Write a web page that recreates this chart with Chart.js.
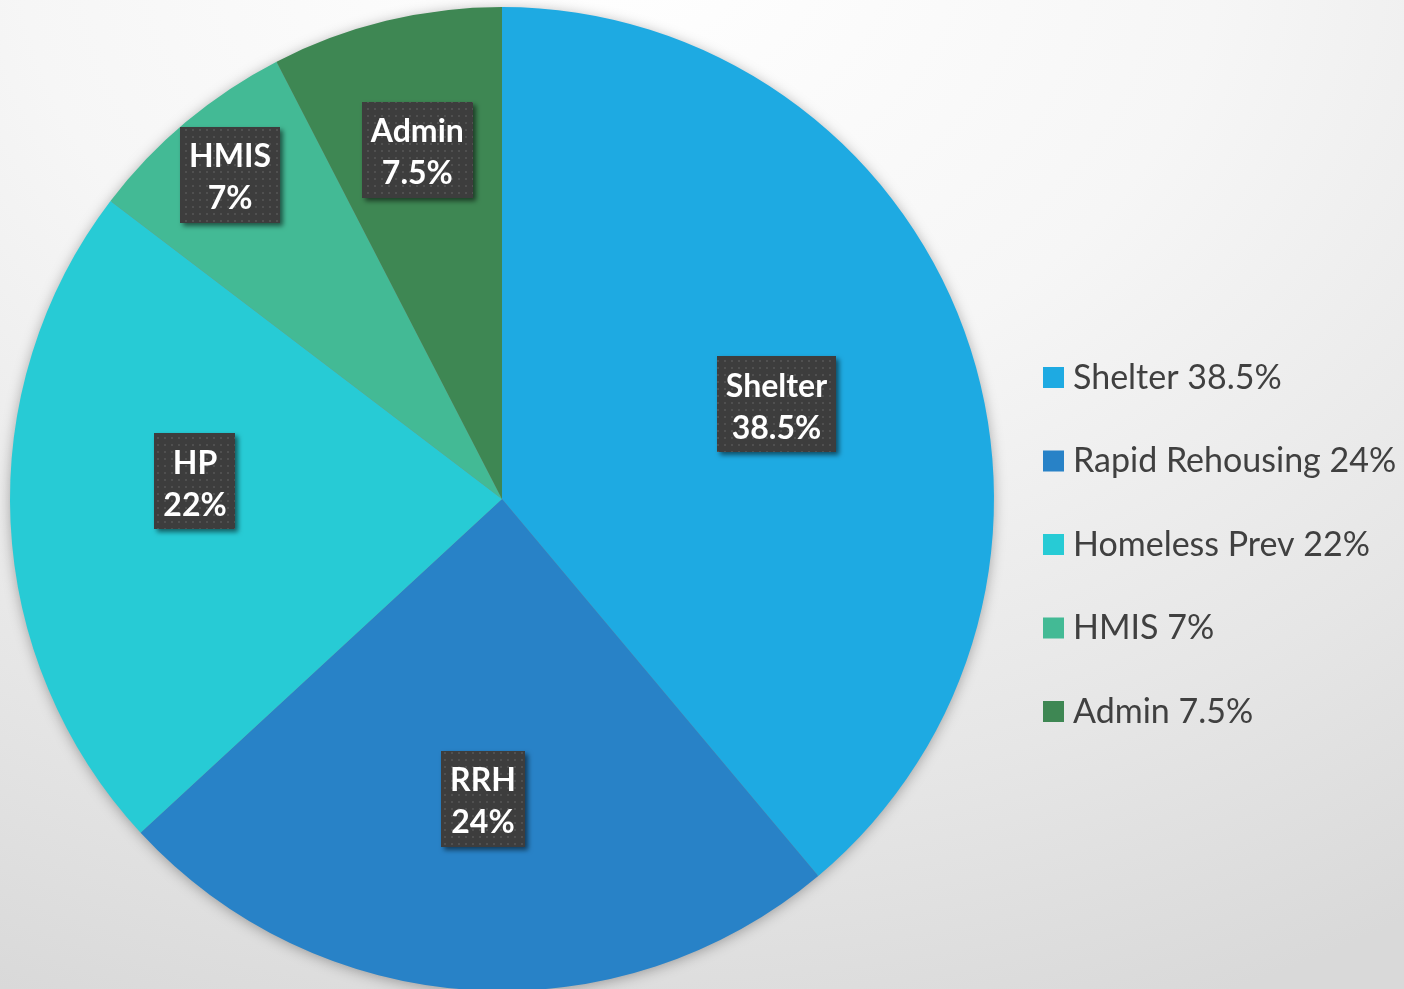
<!DOCTYPE html>
<html lang="en">
<head>
    <meta charset="UTF-8">
    <title>Funding split</title>
    <style>
        html, body {
            margin: 0;
            padding: 0;
            overflow: hidden;
        }
        body {
            width: 1404px;
            height: 989px;
            background: radial-gradient(ellipse 1500px 1150px at 620px -60px, #ffffff 0%, #f6f6f6 40%, #e6e6e6 75%, #d9d9d9 100%);
        }
        .chart-box {
            position: relative;
            width: 1404px;
            height: 1000px;
        }
    </style>
    <script src="https://cdn.jsdelivr.net/npm/chart.js"></script>
</head>
<body>
    <div class="chart-box">
        <canvas id="pieChart"></canvas>
    </div>

    <script>
        // data
        const categories = ['Shelter', 'Rapid Rehousing', 'Homeless Prev', 'HMIS', 'Admin'];
        const shortNames = ['Shelter', 'RRH', 'HP', 'HMIS', 'Admin'];
        const shares = [38.5, 24, 22, 7, 7.5];
        const sliceColors = ['#1eaae2', '#2882c7', '#27cbd5', '#43ba95', '#3e8753'];

        // where the label boxes sit: fraction of the radius, and a small turn (degrees)
        const labelRadius = [0.59, 0.61, 0.625, 0.86, 0.73];
        const labelTurn = [1, 0, 6, 0, 0];

        const fontName = 'Lato, "Open Sans", sans-serif';

        // little dotted texture for the label boxes
        function makeDots() {
            const c = document.createElement('canvas');
            c.width = 7;
            c.height = 7;
            const g = c.getContext('2d');
            g.fillStyle = '#3d3d3d';
            g.fillRect(0, 0, 7, 7);
            g.fillStyle = '#505050';
            g.fillRect(3, 3, 2, 2);
            return c;
        }

        const pieShadow = {
            id: 'pieShadow',
            beforeDatasetsDraw(chart) {
                const arc = chart.getDatasetMeta(0).data[0];
                if (!arc) return;
                const ctx = chart.ctx;
                ctx.save();
                ctx.shadowColor = 'rgba(0,0,0,0.35)';
                ctx.shadowBlur = 14;
                ctx.shadowOffsetY = 2;
                ctx.fillStyle = '#888';
                ctx.beginPath();
                ctx.arc(arc.x, arc.y, arc.outerRadius - 1, 0, Math.PI * 2);
                ctx.fill();
                ctx.restore();
            }
        };

        const boxLabels = {
            id: 'boxLabels',
            afterDatasetsDraw(chart) {
                const ctx = chart.ctx;
                const meta = chart.getDatasetMeta(0);
                const pattern = ctx.createPattern(makeDots(), 'repeat');
                const lineGap = 42;
                const boxH = 96;

                meta.data.forEach((arc, i) => {
                    const mid = (arc.startAngle + arc.endAngle) / 2 + labelTurn[i] * Math.PI / 180;
                    const r = arc.outerRadius * labelRadius[i];
                    const cx = arc.x + Math.cos(mid) * r;
                    const cy = arc.y + Math.sin(mid) * r;
                    const lines = [shortNames[i], shares[i] + '%'];

                    ctx.save();
                    ctx.font = 'bold 32px ' + fontName;
                    const w = Math.max(...lines.map(t => ctx.measureText(t).width)) + 18;

                    ctx.shadowColor = 'rgba(0,0,0,0.55)';
                    ctx.shadowBlur = 5;
                    ctx.shadowOffsetX = 3;
                    ctx.shadowOffsetY = 3;
                    ctx.fillStyle = pattern;
                    ctx.fillRect(Math.round(cx - w / 2), Math.round(cy - boxH / 2), Math.round(w), boxH);
                    ctx.restore();

                    ctx.save();
                    ctx.font = 'bold 32px ' + fontName;
                    ctx.fillStyle = '#ffffff';
                    ctx.textAlign = 'center';
                    ctx.textBaseline = 'middle';
                    ctx.fillText(lines[0], cx, cy - lineGap / 2 + 3);
                    ctx.fillText(lines[1], cx, cy + lineGap / 2 + 3);
                    ctx.restore();
                });
            }
        };

        const sideLegend = {
            id: 'sideLegend',
            afterDraw(chart) {
                const ctx = chart.ctx;
                const x0 = 1043;
                const y0 = 377;
                const step = 83.5;
                ctx.save();
                ctx.font = '34px ' + fontName;
                ctx.textBaseline = 'middle';
                categories.forEach((name, i) => {
                    const y = y0 + i * step;
                    ctx.fillStyle = sliceColors[i];
                    ctx.fillRect(x0, y - 10, 21, 21);
                    ctx.fillStyle = '#404040';
                    ctx.fillText(name + ' ' + shares[i] + '%', x0 + 30, y + 1);
                });
                ctx.restore();
            }
        };

        const ctx = document.getElementById('pieChart').getContext('2d');
        new Chart(ctx, {
            type: 'pie',
            data: {
                labels: categories,
                datasets: [{
                    data: shares,
                    backgroundColor: sliceColors,
                    borderWidth: 0
                }]
            },
            options: {
                responsive: true,
                maintainAspectRatio: false,
                animation: false,
                layout: {
                    padding: { left: 10, top: 7, right: 410, bottom: 9 }
                },
                plugins: {
                    legend: { display: false },
                    tooltip: { enabled: false }
                }
            },
            plugins: [pieShadow, boxLabels, sideLegend]
        });
    </script>
</body>
</html>
